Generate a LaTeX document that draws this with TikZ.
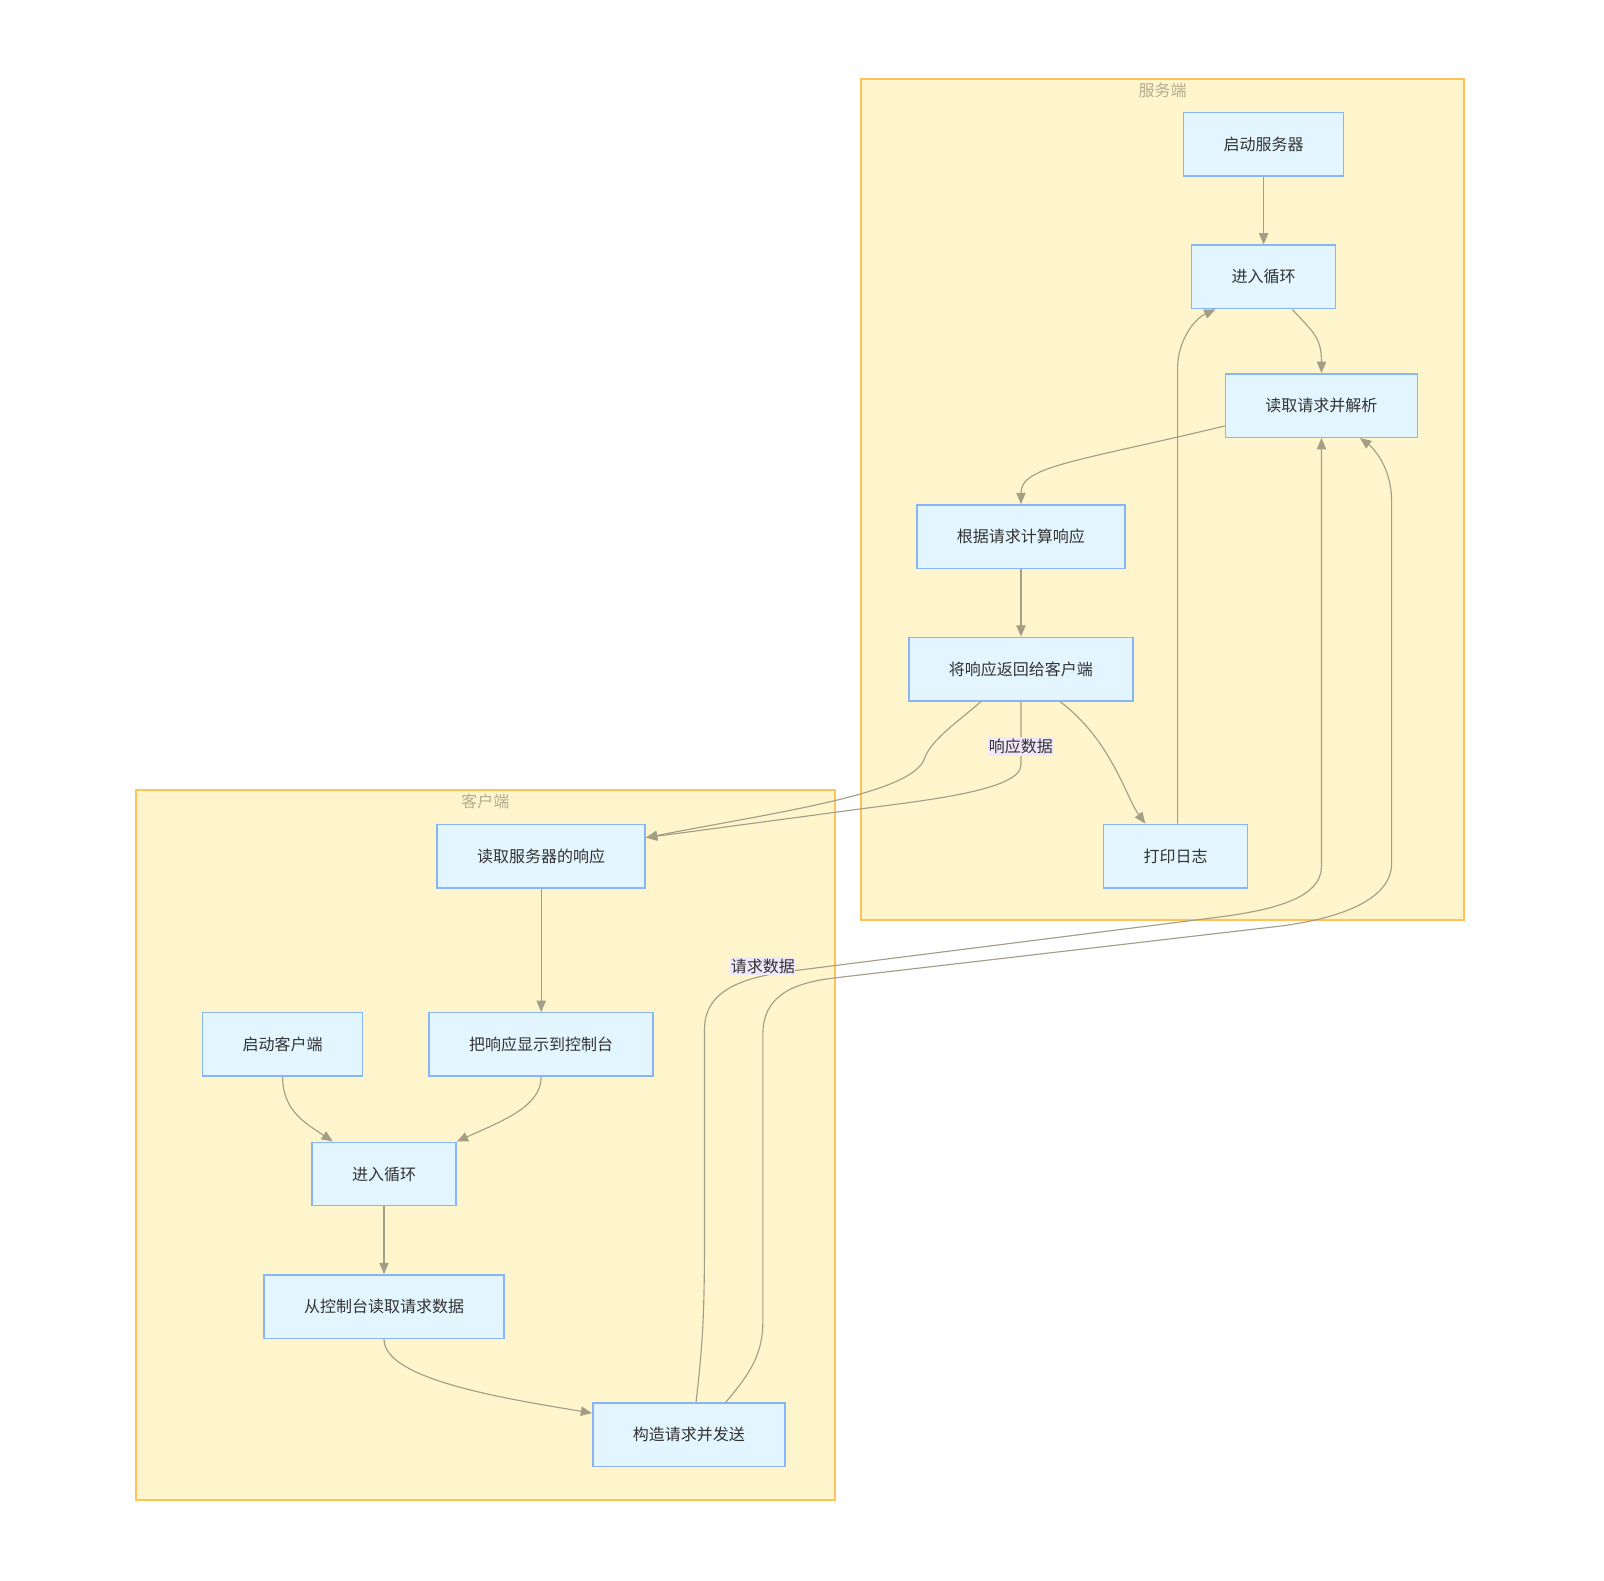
\documentclass[tikz,border=0pt]{standalone}
\usepackage{fontspec}
\setmainfont{Noto Sans CJK SC}
\usetikzlibrary{positioning,calc,arrows.meta}
\definecolor{nodefill}{HTML}{E3F5FF}
\definecolor{nodeline}{HTML}{88B5F7}
\definecolor{groupfill}{HTML}{FFF5CC}
\definecolor{groupline}{HTML}{FFC35A}
\definecolor{grouptext}{HTML}{B3AC8F}
\definecolor{flowline}{HTML}{A39E86}
\definecolor{labelfill}{HTML}{F0E8FA}
\definecolor{inktext}{HTML}{333333}

\begin{document}
\begin{tikzpicture}[
x=0.768pt, y=-0.768pt,
stepnode/.style={rectangle, draw=nodeline, fill=nodefill, line width=1.1pt, minimum height=47.6pt, inner xsep=30pt, text=inktext, font=\fontsize{12}{14}\selectfont},
groupbox/.style={draw=groupline, fill=groupfill, line width=1.1pt},
grouptitle/.style={text=grouptext, font=\fontsize{12}{14}\selectfont},
datalabel/.style={fill=labelfill, text=inktext, inner xsep=0.5pt, inner ysep=1.5pt, font=\fontsize{12}{14}\selectfont},
flow/.style={draw=flowline, line width=0.85pt, -{Triangle[length=8.5pt,width=7pt]}}
]
\path[use as bounding box, fill=white] (0,0) rectangle (1566.4,1543.9);
\draw[groupbox] (840.8,77.1) rectangle (1429.7,898.4);
\node[grouptitle] (SG) at (1135.3,88.5) {服务端};
\draw[groupbox] (132.8,771.5) rectangle (815.4,1464.8);
\node[grouptitle] (CG) at (474.1,783) {客户端};

\node[stepnode] (S1) at (1234,141) {启动服务器};
\node[stepnode] (S2) [below=50.7pt of S1] {进入循环};
\node[stepnode] (S3) at (1290.5,396) {读取请求并解析};
\node[stepnode] (S4) at (997,524) {根据请求计算响应};
\node[stepnode] (S5) [below=50.7pt of S4] {将响应返回给客户端};
\node[stepnode] (S6) at (1148,836) {打印日志};

\node[stepnode] (C1) at (276,1020) {启动客户端};
\node[stepnode] (C2) at (375,1146.5) {进入循环};
\node[stepnode] (C3) [below=50.7pt of C2] {从控制台读取请求数据};
\node[stepnode] (C4) at (672.7,1401) {构造请求并发送};
\node[stepnode] (C5) at (528.5,836) {读取服务器的响应};
\node[stepnode] (C6) at (528.5,1020) {把响应显示到控制台};

\draw[flow] (S1) -- (S2);
\draw[flow] ($(S2.south)+(28,0)$) .. controls +(20,22) and +(0,-35) .. (S3.north);
\draw[flow] ($(S3.west)+(0,20)$) .. controls +(-146,35) and +(0,-37) .. (S4.north);
\draw[flow] (S4) -- (S5);
\draw[flow] ($(S5.south)+(-39,0)$) .. controls +(-23,20) and +(7,-18) .. (903,740) .. controls +(-10,35) and +(130,-25.4) .. ($(C5.east)+(0,-18)$);
\draw[flow] (S5.south) -- ++(0,62) node[datalabel, pos=0.71] (L1) {响应数据} .. controls +(0,25) and +(60,-8) .. (840,790) -- ($(C5.east)+(0,-18)$);
\draw[flow] ($(S5.south)+(38,0)$) .. controls +(50,37) and +(-18.6,-25) .. ($(S6.north)+(-29.5,0)$);
\draw[flow] ($(S6.north)+(2,0)$) -- ++(0,-445) .. controls +(0,-25) and +(-22,10) .. ($(S2.south)+(-47,0)$);

\draw[flow] (C5) -- (C6);
\draw[flow] (C1.south) .. controls +(0,34) and +(-25,-17) .. ($(C2.north)+(-50,0)$);
\draw[flow] (C6.south) .. controls +(0,29) and +(44,-20) .. (C2.north east);
\draw[flow] (C2) -- (C3);
\draw[flow] (C3.south) .. controls +(0,39) and +(-90,-15) .. ($(C4.west)+(0,-21)$);

\draw[flow] ($(C4.north)+(7,0)$) .. controls +(7,-60) and +(0,80) .. (688,1200) -- (688,1005) .. controls +(0,-40) and +(-45,5.6) .. (775,948) node[datalabel, pos=0.77, yshift=7.5pt] (L2) {请求数据} -- (1187,896) .. controls +(60,-7.5) and +(0,30) .. (1290.5,846) -- (S3.south);
\draw[flow] ($(C4.north)+(36,0)$) .. controls +(26,-30) and +(0,30) .. (745,1290) -- (745,1010) .. controls +(0,-35) and +(-45,5.2) .. (815,955) -- (1245,905) .. controls +(60,-7) and +(0,37) .. (1359,843) -- (1359,490) .. controls +(0,-35) and +(12,9) .. ($(S3.south)+(37.5,0)$);
\end{tikzpicture}
\end{document}
